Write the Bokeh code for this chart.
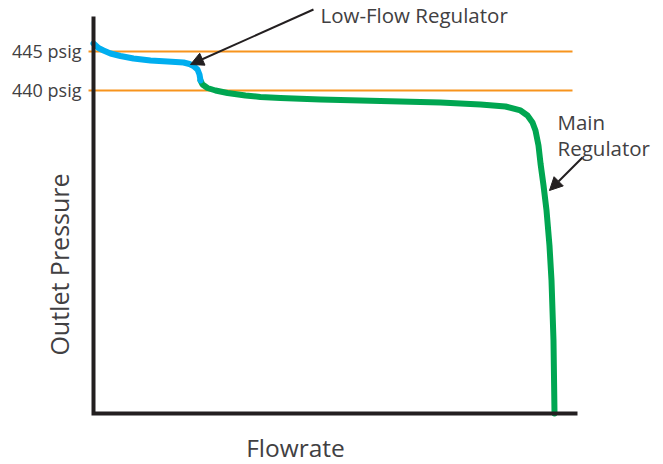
from bokeh.plotting import figure
from bokeh.models import Range1d, Label, Arrow, NormalHead
from bokeh.core.properties import value
from bokeh.embed import file_html
from bokeh.resources import INLINE
import math

# ---- data (flow in arbitrary units 0..100, pressure in psig) ----
low_flow = [0.0, 1.03, 2.07, 3.51, 5.58, 8.26, 11.78, 15.29, 18.60, 19.83, 20.66, 21.49, 21.90, 22.11]
low_pres = [446.03, 445.45, 445.13, 444.74, 444.42, 444.10, 443.85, 443.72, 443.59, 443.40, 443.14, 442.69, 442.05, 441.28]

main_flow = [22.11, 22.52, 23.55, 25.21, 27.69, 31.40, 34.50, 38.64, 46.90, 59.30, 71.69, 79.96, 85.12,
             88.22, 89.67, 90.70, 91.32, 91.94, 92.36, 92.98, 93.60, 94.21, 94.63, 95.04, 95.25]
main_pres = [441.28, 440.77, 440.32, 440.00, 439.68, 439.36, 439.17, 439.04, 438.85, 438.65, 438.46, 438.21, 437.95,
             437.44, 436.79, 435.90, 434.87, 432.95, 430.64, 427.82, 424.62, 420.13, 415.64, 407.95, 398.6]

set_points = [445, 440]
set_labels = ["445 psig", "440 psig"]

# axis extents (data units)
flow_min, flow_max = 0, 100
pres_min, pres_max = 398.59, 449.49
ref_line_start, ref_line_end = -1.03, 98.97

FONT = "Open Sans"
TXT = "#414042"

p = figure(width=663, height=464, output_backend="svg", toolbar_location=None,
           x_range=Range1d(-19.215, 117.769), y_range=Range1d(392.051, 451.538),
           min_border=0)
p.outline_line_color = None
p.axis.visible = False
p.xgrid.visible = False
p.ygrid.visible = False

# set-point lines
for v in set_points:
    p.line([ref_line_start, ref_line_end], [v, v], line_color="#f7941d", line_width=2)

# curves
p.line(main_flow, main_pres, line_color="#00a651", line_width=6, line_join="round", line_cap="round")
p.line(low_flow, low_pres, line_color="#00aeef", line_width=6, line_join="round", line_cap="round")

# axis lines
p.line([flow_min, flow_min, flow_max], [pres_max, pres_min, pres_min],
       line_color="#231f20", line_width=4, line_join="miter")

# tick labels
p.text(x=[-2.48] * len(set_points), y=set_points, text=set_labels,
       text_font=value(FONT), text_font_size=value("18px"), text_color=TXT,
       text_align="right", text_baseline="middle")

# annotations
p.add_layout(Arrow(end=NormalHead(size=13, fill_color="#231f20", line_color="#231f20"),
                   x_start=45.45, y_start=450.38, x_end=20.04, y_end=443.33,
                   line_color="#231f20", line_width=2))
p.add_layout(Arrow(end=NormalHead(size=13, fill_color="#231f20", line_color="#231f20"),
                   x_start=101.03, y_start=431.41, x_end=94.21, y_end=427.18,
                   line_color="#231f20", line_width=2))

p.add_layout(Label(x=46.9, y=449.62, text="Low-Flow Regulator", text_font=FONT, text_font_size="20.5px",
                   text_color=TXT, text_baseline="middle", text_align="left"))
p.add_layout(Label(x=95.87, y=435.90, text="Main", text_font=FONT, text_font_size="20.5px",
                   text_color=TXT, text_baseline="middle", text_align="left"))
p.add_layout(Label(x=95.87, y=432.69, text="Regulator", text_font=FONT, text_font_size="20.5px",
                   text_color=TXT, text_baseline="middle", text_align="left"))
p.add_layout(Label(x=-7.23, y=417.69, text="Outlet Pressure", text_font=FONT, text_font_size="25px",
                   text_color=TXT, text_baseline="middle", text_align="center", angle=math.pi / 2))
p.add_layout(Label(x=41.74, y=394.23, text="Flowrate", text_font=FONT, text_font_size="24.5px",
                   text_color=TXT, text_baseline="middle", text_align="center"))

open("out.html", "w").write(file_html(p, INLINE))
